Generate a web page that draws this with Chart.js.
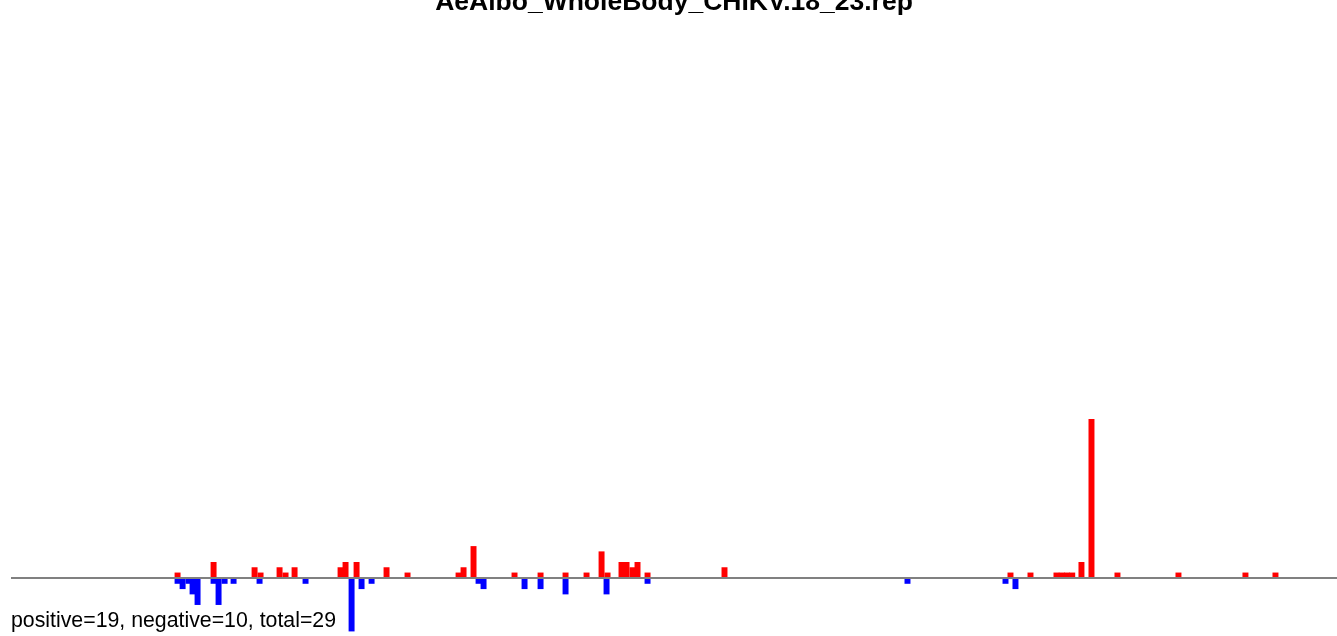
<!DOCTYPE html>
<html>
<head>
<meta charset="utf-8">
<script src="https://cdn.jsdelivr.net/npm/chart.js@4/dist/chart.umd.min.js"></script>
<style>
    html, body { margin: 0; padding: 0; background: #fff; overflow: hidden; }
    #frame { position: relative; width: 1337px; height: 636px; overflow: hidden; }
    #holder { position: absolute; left: 0; top: -13px; width: 1337px; height: 649px; }
</style>
</head>
<body>
<div id="frame"><div id="holder"><canvas id="chart"></canvas></div></div>
<script>
const chartTitle = "AeAlbo_WholeBody_CHIKV.18_23.rep"
const summary = "positive=19, negative=10, total=29"

// positions along the track (bin units) and counts
const posX = [31.73, 38.59, 46.40, 47.54, 51.16, 52.30, 54.02, 62.78, 63.73, 65.83,
              71.54, 75.54, 85.26, 86.21, 88.11, 95.92, 100.88, 105.64, 109.64, 112.50,
              113.64, 116.30, 117.26, 118.40, 119.35, 121.26, 135.92, 190.40, 194.21, 199.16,
              200.16, 201.16, 202.16, 203.92, 205.83, 210.78, 222.40, 235.16, 240.88]
const posY = [1, 3, 2, 1, 2, 1, 2, 2, 3, 3,
              2, 1, 1, 2, 6, 1, 1, 1, 1, 5,
              1, 3, 3, 2, 3, 1, 2, 1, 1, 1,
              1, 1, 1, 3, 30, 1, 1, 1, 1]

const negX = [31.73, 32.69, 33.83, 34.59, 35.54, 38.59, 39.54, 40.69, 42.40, 47.35,
              56.11, 64.88, 66.78, 68.69, 89.07, 90.02, 97.83, 100.88, 105.64, 113.45,
              121.26, 170.78, 189.45, 191.35]
const negY = [-1, -2, -1, -3, -5, -1, -5, -1, -1, -1,
              -1, -10, -2, -1, -1, -2, -2, -2, -3, -3,
              -1, -1, -1, -2]

const xMin = 0, xMax = 252.6
const yMin = -5.72, yMax = 105.72

window.onload = () => {
    let toPoints = (xs, ys) => xs.map((x, i) => ({x: x, y: ys[i]}))
    new Chart(document.getElementById("chart"), {
        type: 'bar',
        data: {
            datasets: [{
                label: 'positive',
                data: toPoints(posX, posY),
                backgroundColor: '#ff0000',
                borderWidth: 0,
                clip: false
            }, {
                label: 'negative',
                data: toPoints(negX, negY),
                backgroundColor: '#0000ff',
                borderWidth: 0,
                clip: false
            }]
        },
        options: {
            responsive: true,
            maintainAspectRatio: false,
            animation: false,
            layout: { padding: { left: 11, right: 0, top: 0, bottom: 0 } },
            datasets: { bar: { grouped: false, barThickness: 5.3 } },
            plugins: {
                legend: { display: false },
                tooltip: { enabled: true },
                title: {
                    display: true,
                    text: chartTitle,
                    color: '#000',
                    font: { family: "'Liberation Sans', Arial, sans-serif", size: 26.5, weight: 'bold', lineHeight: 1.2 },
                    padding: { top: 0, bottom: 0 }
                }
            },
            scales: {
                x: {
                    type: 'linear',
                    min: xMin,
                    max: xMax,
                    offset: false,
                    ticks: { display: false },
                    grid: { display: false, drawTicks: false },
                    border: { display: false },
                    title: {
                        display: true,
                        text: summary,
                        align: 'start',
                        color: '#000',
                        font: { family: "'Liberation Sans', Arial, sans-serif", size: 21.3, lineHeight: 1.2 },
                        padding: { top: 0, bottom: 2 }
                    }
                },
                y: {
                    min: yMin,
                    max: yMax,
                    ticks: { display: false },
                    border: { display: false },
                    grid: {
                        z: 1,
                        drawTicks: false,
                        lineWidth: 2,
                        color: (ctx) => ctx.tick && ctx.tick.value === 0 ? '#808080' : 'rgba(0,0,0,0)'
                    }
                }
            }
        }
    })
}
</script>
</body>
</html>
